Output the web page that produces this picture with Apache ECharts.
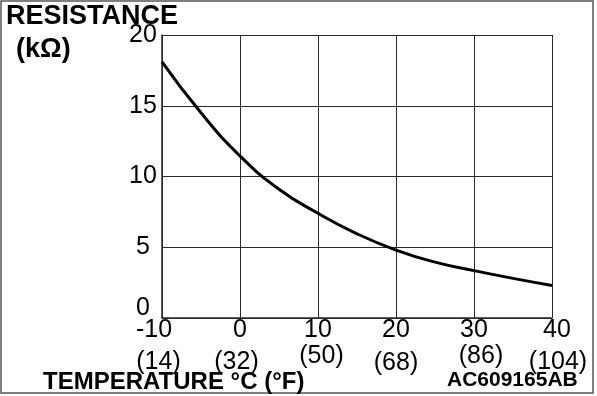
<!DOCTYPE html>
<html>
<head>
<meta charset="utf-8">
<script src="https://cdn.jsdelivr.net/npm/echarts@6/dist/echarts.min.js"></script>
<style>
  html, body { margin: 0; padding: 0; background: #fff; }
  #chart { width: 597px; height: 396px; }
</style>
</head>
<body>
<div id="chart"></div>
<script>
(function() {
  'use strict';

  var font = 'Liberation Sans, Arial, Helvetica, sans-serif';
  var ink = '#000';
  var gridColor = '#2a2a2a';
  var fs = 25;

  // ---- Data ----
  var tempTicksC = [-10, 0, 10, 20, 30, 40];
  var tempLabelsF = ['(14)', '(32)', '(50)', '(68)', '(86)', '(104)'];
  var resistTicks = [0, 5, 10, 15, 20];
  var curveTemp = [-10, -5, 0, 5, 10, 15, 20, 25, 30, 35, 40];
  var curveResist = [18.1, 14.5, 11.45, 9.1, 7.4, 5.95, 4.8, 3.95, 3.35, 2.8, 2.3];

  var chart = echarts.init(document.getElementById('chart'));
  chart.setOption({
    animation: false,
    backgroundColor: '#fff',
    grid: { left: 162, right: 45, top: 35, bottom: 78 },
    xAxis: [{
      type: 'value',
      min: -10,
      max: 40,
      interval: 10,
      axisLine: { show: true, onZero: false, lineStyle: { color: gridColor, width: 1.5 } },
      axisTick: { show: false },
      splitLine: { show: true, lineStyle: { color: gridColor, width: 1 } },
      axisLabel: {
        margin: 0,
        formatter: function(v) {
          if (v === -10) return '{l|-10}';
          if (v === 40) return '{r|40}';
          return '{n|' + v + '}';
        },
        rich: {
          n: { fontFamily: font, fontSize: fs, color: ink },
          l: { fontFamily: font, fontSize: fs, color: ink, padding: [0, 16, 0, 0] },
          r: { fontFamily: font, fontSize: fs, color: ink, padding: [0, 0, 0, 10] }
        }
      }
    }, {
      type: 'value',
      position: 'bottom',
      offset: 26,
      min: -10,
      max: 40,
      interval: 10,
      axisLine: { show: false, onZero: false },
      axisTick: { show: false },
      splitLine: { show: false },
      axisLabel: {
        margin: 0,
        formatter: function(v) {
          var i = tempTicksC.indexOf(v);
          var s = tempLabelsF[i];
          if (i === 2) return '{u|' + s + '}';
          if (i === 4) return '{v|' + s + '}';
          if (i === 5) return '{w|' + s + '}';
          if (i === 0 || i === 1) return '{a|' + s + '}';
          return '{n|' + s + '}';
        },
        rich: {
          n: { fontFamily: font, fontSize: fs, color: ink, padding: [7, 0, 0, 0] },
          a: { fontFamily: font, fontSize: fs, color: ink, padding: [6, 7, 0, 0] },
          u: { fontFamily: font, fontSize: fs, color: ink, padding: [0, 0, 0, 7] },
          v: { fontFamily: font, fontSize: fs, color: ink, padding: [0, 0, 0, 14] },
          w: { fontFamily: font, fontSize: fs, color: ink, padding: [6, 0, 0, 12] }
        }
      }
    }],
    yAxis: {
      type: 'value',
      min: 0,
      max: 20,
      interval: 5,
      axisLine: { show: true, onZero: false, lineStyle: { color: gridColor, width: 1.5 } },
      axisTick: { show: false },
      splitLine: { show: true, lineStyle: { color: gridColor, width: 1 } },
      axisLabel: {
        margin: 19,
        align: 'center',
        formatter: function(v) {
          return v === 0 ? '{z|0}' : '{n|' + v + '}';
        },
        rich: {
          n: { fontFamily: font, fontSize: fs, color: ink },
          z: { fontFamily: font, fontSize: fs, color: ink, padding: [0, 0, 20, 0] }
        }
      }
    },
    series: [{
      type: 'line',
      xAxisIndex: 0,
      data: curveTemp.map(function(t, i) { return [t, curveResist[i]]; }),
      smooth: 0.5,
      showSymbol: false,
      lineStyle: { color: ink, width: 3 }
    }],
    graphic: [
      {
        type: 'rect',
        shape: { x: 1, y: 1, width: 592, height: 392 },
        style: { fill: 'none', stroke: '#555', lineWidth: 1.5 },
        silent: true
      },
      {
        type: 'text', left: 6, top: 3,
        style: { text: 'RESISTANCE', font: 'bold 27px ' + font, fill: ink }
      },
      {
        type: 'text', left: 16, top: 36,
        style: { text: '(kΩ)', font: 'bold 27px ' + font, fill: ink }
      },
      {
        type: 'text', left: 43, top: 370,
        style: { text: 'TEMPERATURE °C (°F)', font: 'bold 24px ' + font, fill: ink }
      },
      {
        type: 'text', left: 447, top: 370,
        style: { text: 'AC609165AB', font: 'bold 21px ' + font, fill: ink }
      }
    ]
  });
  window.addEventListener('resize', function() { chart.resize(); });
})();
</script>
</body>
</html>
